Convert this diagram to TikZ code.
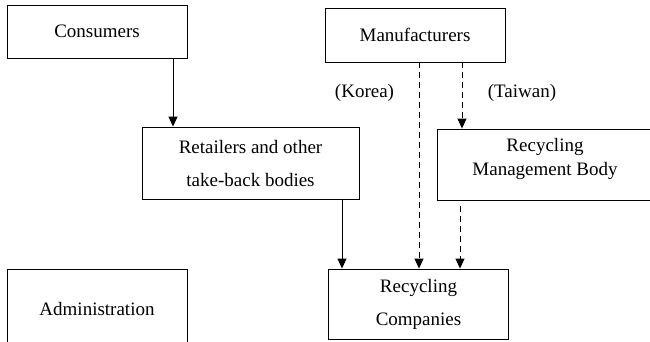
\documentclass[tikz,border=0pt]{standalone}
\usepackage{fontspec}
\setmainfont{Liberation Serif}
\usetikzlibrary{arrows.meta}

\begin{document}
\begin{tikzpicture}[x=1pt, y=-1pt, >={Triangle[length=10pt,width=9pt]}, line width=0.9pt,
  box/.style={rectangle, draw, inner sep=0pt, align=center, minimum width=180pt,
    font=\fontsize{19}{33}\selectfont},
  tag/.style={font=\fontsize{19}{23}\selectfont},
  flow/.style={->},
  link/.style={->, dash pattern=on 6pt off 4pt}]

  \useasboundingbox (0,0) rectangle (650,341);
  \clip (0,0) rectangle (650,341);

  % actors
  \node[box, minimum height=53pt] (cons) at (97,31.5) {Consumers};
  \node[box, minimum height=54pt] (mfr)  at (415,35)  {Manufacturers};
  \node[box, minimum width=217pt, minimum height=72pt] (ret) at (250.5,163)
    {Retailers and other\\take-back bodies};
  \node[box, minimum width=216pt, minimum height=71pt,
    font=\fontsize{19}{24}\selectfont] (rmb) at (545,164.5)
    {Recycling\\Management Body\\[-8pt]};
  \node[box, minimum height=70pt] (rc)  at (418.5,304) {Recycling\\Companies};
  \node[box, minimum height=80pt] (adm) at (97,309)   {Administration};

  \node[tag] (kor) at (364.5,93) {(Korea)};
  \node[tag] (tw)  at (522,93)   {(Taiwan)};

  % flows
  \draw[flow] ([xshift=76pt]cons.south) -- ([xshift=76pt]cons.south |- ret.north);
  \draw[flow] ([xshift=91.5pt]ret.south) -- ([xshift=91.5pt]ret.south |- rc.north);
  \draw[link] ([xshift=4pt]mfr.south) -- ([xshift=4pt]mfr.south |- rc.north);
  \draw[link] ([xshift=47pt]mfr.south) -- ([xshift=47pt]mfr.south |- rmb.north);
  \draw[link] ([xshift=-85pt,yshift=-6pt]rmb.south) -- ([xshift=-85pt]rmb.south |- rc.north);
\end{tikzpicture}
\end{document}
